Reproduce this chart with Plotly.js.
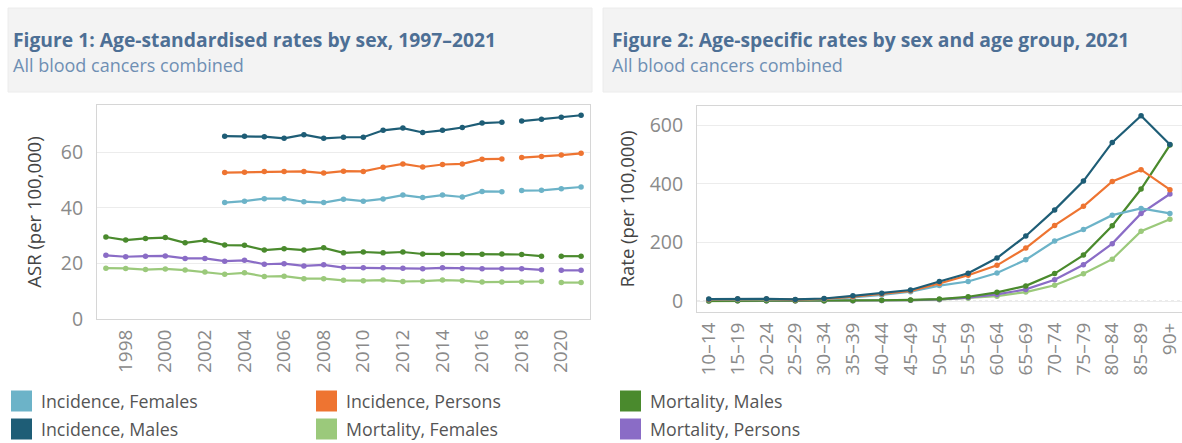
<!DOCTYPE html>
<html>
<head>
<meta charset="utf-8">
<script src="https://cdn.plot.ly/plotly-3.0.1.min.js"></script>
<style>
  html, body { margin: 0; padding: 0; background: #ffffff; }
  #chart { width: 1182px; height: 443px; }
</style>
</head>
<body>
<div id="chart"></div>
<script>
// ---------------- DATA ----------------
const years = [1997, 1998, 1999, 2000, 2001, 2002, 2003, 2004, 2005, 2006, 2007, 2008, 2009,
               2010, 2011, 2012, 2013, 2014, 2015, 2016, 2017, 2018, 2019, 2020, 2021];

// Figure 1: age-standardised rates (per 100,000)
const asrIncidenceFemales = [null, null, null, null, null, null,
  41.9, 42.4, 43.3, 43.3, 42.2, 41.9, 43.1, 42.4, 43.2, 44.6, 43.7, 44.6, 43.9, 45.9, 45.8, 46.2, 46.3, 46.9, 47.5];
const asrIncidenceMales = [null, null, null, null, null, null,
  65.8, 65.8, 65.6, 65.0, 66.3, 65.0, 65.4, 65.4, 67.9, 68.7, 67.1, 67.9, 68.9, 70.5, 70.8, 71.2, 71.9, 72.6, 73.3];
const asrIncidencePersons = [null, null, null, null, null, null,
  52.7, 52.8, 53.1, 53.1, 53.1, 52.5, 53.2, 53.1, 54.6, 55.8, 54.7, 55.6, 55.8, 57.5, 57.6, 58.1, 58.5, 59.0, 59.6];
const asrMortalityFemales = [18.3, 18.2, 17.8, 18.0, 17.6, 16.9, 16.1, 16.6, 15.3, 15.4, 14.5, 14.5, 13.9,
  13.8, 14.0, 13.5, 13.6, 14.0, 13.8, 13.3, 13.3, 13.3, 13.5, 13.1, 13.1];
const asrMortalityMales = [29.5, 28.4, 29.0, 29.3, 27.4, 28.3, 26.6, 26.5, 24.8, 25.3, 24.8, 25.6, 23.8,
  24.1, 23.8, 24.1, 23.4, 23.4, 23.4, 23.3, 23.4, 23.2, 22.6, 22.6, 22.6];
const asrMortalityPersons = [22.9, 22.4, 22.6, 22.7, 21.8, 21.8, 20.8, 21.1, 19.7, 19.9, 19.1, 19.5, 18.5,
  18.4, 18.4, 18.3, 18.1, 18.4, 18.2, 18.1, 18.1, 18.1, 17.7, 17.5, 17.5];
// series break (line not joined across this year)
const incidenceBreakYear = 2018;
const mortalityBreakYear = 2020;

// Figure 2: age-specific rates, 2021 (per 100,000)
const ageGroups = ["10–14", "15–19", "20–24", "25–29", "30–34", "35–39", "40–44", "45–49", "50–54",
                   "55–59", "60–64", "65–69", "70–74", "75–79", "80–84", "85–89", "90+"];
const ageIncidenceFemales = [5, 6, 6, 5, 7, 13, 21, 32, 53, 67, 96, 141, 205, 244, 293, 316, 299];
const ageIncidenceMales   = [7, 8, 8, 6, 9, 18, 27, 38, 67, 95, 147, 222, 311, 409, 541, 632, 534];
const ageIncidencePersons = [6, 7, 7, 5, 8, 15, 24, 35, 60, 88, 122, 181, 258, 323, 408, 448, 380];
const ageMortalityFemales = [0, 1, 1, 1, 1, 1, 2, 3, 5, 10, 17, 31, 54, 93, 143, 238, 279];
const ageMortalityMales   = [1, 1, 1, 1, 1, 2, 3, 4, 7, 15, 30, 52, 94, 157, 257, 382, 532];
const ageMortalityPersons = [1, 1, 1, 1, 1, 1, 2, 3, 6, 12, 23, 40, 73, 124, 196, 299, 365];

const seriesNames = ["Incidence, Females", "Incidence, Males", "Incidence, Persons",
                     "Mortality, Females", "Mortality, Males", "Mortality, Persons"];
const yearTicks = [1998, 2000, 2002, 2004, 2006, 2008, 2010, 2012, 2014, 2016, 2018, 2020];

// ---------------- STYLE ----------------
const colors = ["#6cb3c8", "#1e5d76", "#ee7431", "#9bc97b", "#4a8a2d", "#8a6cc6"];
const W = 1182, H = 443;
const px = x => x / W;
const py = y => (H - y) / H;
const FONT = "Open Sans, Lato, sans-serif";

const asrSeries = [asrIncidenceFemales, asrIncidenceMales, asrIncidencePersons,
                   asrMortalityFemales, asrMortalityMales, asrMortalityPersons];
const asrBreaks = [incidenceBreakYear, incidenceBreakYear, incidenceBreakYear,
                   mortalityBreakYear, mortalityBreakYear, mortalityBreakYear];
const ageSeries = [ageIncidenceFemales, ageIncidenceMales, ageIncidencePersons,
                   ageMortalityFemales, ageMortalityMales, ageMortalityPersons];

const traces = [];
const order = [3, 5, 4, 0, 2, 1];
order.forEach(i => {
  const br = asrBreaks[i];
  const segs = [years.map(y => y < br), years.map(y => y >= br)];
  segs.forEach(mask => {
    traces.push({
      type: "scatter", mode: "lines+markers",
      x: years.filter((y, k) => mask[k]),
      y: asrSeries[i].filter((v, k) => mask[k]),
      name: seriesNames[i], showlegend: false,
      xaxis: "x", yaxis: "y",
      line: { color: colors[i], width: 2.2 },
      marker: { color: colors[i], size: 5.5 }
    });
  });
});
order.forEach(i => {
  traces.push({
    type: "scatter", mode: "lines+markers",
    x: ageGroups, y: ageSeries[i],
    name: seriesNames[i], showlegend: false,
    xaxis: "x2", yaxis: "y2",
    line: { color: colors[i], width: 2.2 },
    marker: { color: colors[i], size: 5.5 }
  });
});

const shapes = [
  { type: "rect", xref: "paper", yref: "paper", x0: px(8), x1: px(592), y0: py(92), y1: py(8),
    fillcolor: "#f3f3f3", line: { color: "#ececec", width: 1 }, layer: "below" },
  { type: "rect", xref: "paper", yref: "paper", x0: px(603), x1: px(1182), y0: py(92), y1: py(8),
    fillcolor: "#f3f3f3", line: { color: "#ececec", width: 1 }, layer: "below" },
  { type: "line", xref: "x2 domain", yref: "y2", x0: 0, x1: 1, y0: 0, y1: 0,
    line: { color: "#c8c8c8", width: 1, dash: "dot" }, layer: "below" }
];

const annotations = [
  { text: "<b>Figure 1: Age-standardised rates by sex, 1997–2021</b>", xref: "paper", yref: "paper",
    x: px(11), y: py(40), xanchor: "left", yanchor: "middle", showarrow: false,
    font: { family: FONT, size: 19.3, color: "#4d6f95" } },
  { text: "All blood cancers combined", xref: "paper", yref: "paper",
    x: px(11), y: py(65), xanchor: "left", yanchor: "middle", showarrow: false,
    font: { family: FONT, size: 18, color: "#6f8fb3" } },
  { text: "<b>Figure 2: Age-specific rates by sex and age group, 2021</b>", xref: "paper", yref: "paper",
    x: px(610), y: py(40), xanchor: "left", yanchor: "middle", showarrow: false,
    font: { family: FONT, size: 19.3, color: "#4d6f95" } },
  { text: "All blood cancers combined", xref: "paper", yref: "paper",
    x: px(610), y: py(65), xanchor: "left", yanchor: "middle", showarrow: false,
    font: { family: FONT, size: 18, color: "#6f8fb3" } }
];

const legCols = [11, 316, 620];
const legRows = [401, 429];
seriesNames.forEach((nm, i) => {
  const cx = legCols[Math.floor(i / 2)];
  const cy = legRows[i % 2];
  shapes.push({ type: "rect", xref: "paper", yref: "paper",
    x0: px(cx), x1: px(cx + 21), y0: py(cy + 10.5), y1: py(cy - 10.5),
    fillcolor: colors[i], line: { width: 0 } });
  annotations.push({ text: nm, xref: "paper", yref: "paper",
    x: px(cx + 28), y: py(cy), xanchor: "left", yanchor: "middle", showarrow: false,
    font: { family: FONT, size: 17.8, color: "#555555" } });
});

const layout = {
  width: W, height: H,
  margin: { l: 0, r: 0, t: 0, b: 0 },
  paper_bgcolor: "#ffffff", plot_bgcolor: "#ffffff",
  showlegend: false,
  font: { family: FONT, color: "#888888" },
  xaxis: {
    domain: [px(97), px(590)], anchor: "y",
    range: [1996.55, 2021.45],
    tickmode: "array", tickvals: yearTicks, ticktext: yearTicks.map(String),
    tickangle: -90, tickfont: { size: 19, color: "#8a8a8a" },
    showgrid: false, zeroline: false,
    showline: true, mirror: true, linecolor: "#d6d6d6", linewidth: 1,
    ticks: "outside", ticklen: 2, tickcolor: "rgba(0,0,0,0)"
  },
  yaxis: {
    domain: [py(319), py(105)], anchor: "x",
    range: [0, 77],
    tickvals: [0, 20, 40, 60],
    tickfont: { size: 19.5, color: "#8a8a8a" },
    showgrid: true, gridcolor: "#ececec", zeroline: false,
    showline: true, mirror: true, linecolor: "#d6d6d6", linewidth: 1,
    ticks: "outside", ticklen: 9, tickcolor: "rgba(0,0,0,0)",
    title: { text: "ASR (per 100,000)", standoff: 14, font: { size: 18.5, color: "#444444", family: FONT } }
  },
  xaxis2: {
    domain: [px(697), 1], anchor: "y2",
    type: "category",
    range: [-0.41, 16.42],
    tickangle: -90, tickfont: { size: 19, color: "#8a8a8a" },
    showgrid: false, zeroline: false,
    showline: true, mirror: true, linecolor: "#d6d6d6", linewidth: 1,
    ticks: "outside", ticklen: 2, tickcolor: "rgba(0,0,0,0)"
  },
  yaxis2: {
    domain: [py(312), py(106)], anchor: "x2",
    range: [-37, 665],
    tickvals: [0, 200, 400, 600],
    tickfont: { size: 19.5, color: "#8a8a8a" },
    showgrid: true, gridcolor: "#ececec", zeroline: false,
    showline: true, mirror: false, linecolor: "#d6d6d6", linewidth: 1,
    ticks: "outside", ticklen: 9, tickcolor: "rgba(0,0,0,0)",
    title: { text: "Rate (per 100,000)", standoff: 10, font: { size: 18.5, color: "#444444", family: FONT } }
  },
  shapes: shapes,
  annotations: annotations
};

Plotly.newPlot("chart", traces, layout, { displayModeBar: false, staticPlot: true });
</script>
</body>
</html>
